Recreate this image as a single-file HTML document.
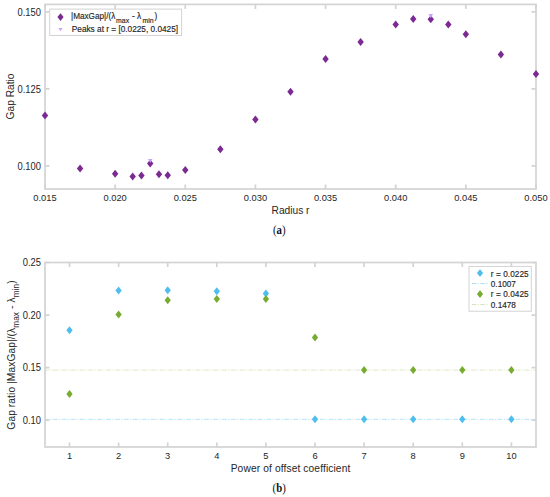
<!DOCTYPE html>
<html><head><meta charset="utf-8"><style>
html,body{margin:0;padding:0;background:#fff;width:550px;height:497px;overflow:hidden;}
svg{display:block;}
</style></head><body>
<svg width="550" height="497" viewBox="0 0 550 497">
<g stroke="#d3d3d3" stroke-width="1.7" fill="none">
<rect x="45.0" y="4.4" width="491.0" height="184.6"/>
<path d="M45.00 189.0V184.5M45.00 4.4V8.9"/>
<path d="M115.14 189.0V184.5M115.14 4.4V8.9"/>
<path d="M185.28 189.0V184.5M185.28 4.4V8.9"/>
<path d="M255.42 189.0V184.5M255.42 4.4V8.9"/>
<path d="M325.56 189.0V184.5M325.56 4.4V8.9"/>
<path d="M395.70 189.0V184.5M395.70 4.4V8.9"/>
<path d="M465.84 189.0V184.5M465.84 4.4V8.9"/>
<path d="M535.98 189.0V184.5M535.98 4.4V8.9"/>
<path d="M45.0 165.80H49.5M536.0 165.80H531.5"/>
<path d="M45.0 88.80H49.5M536.0 88.80H531.5"/>
<path d="M45.0 11.80H49.5M536.0 11.80H531.5"/>
</g>
<g fill="#262626" font-family='"Liberation Sans", sans-serif'>
<text transform="translate(45.00 201.30) scale(0.959 1)" font-size="9.7" text-anchor="middle" >0.015</text>
<text transform="translate(115.14 201.30) scale(0.959 1)" font-size="9.7" text-anchor="middle" >0.020</text>
<text transform="translate(185.28 201.30) scale(0.959 1)" font-size="9.7" text-anchor="middle" >0.025</text>
<text transform="translate(255.42 201.30) scale(0.959 1)" font-size="9.7" text-anchor="middle" >0.030</text>
<text transform="translate(325.56 201.30) scale(0.959 1)" font-size="9.7" text-anchor="middle" >0.035</text>
<text transform="translate(395.70 201.30) scale(0.959 1)" font-size="9.7" text-anchor="middle" >0.040</text>
<text transform="translate(465.84 201.30) scale(0.959 1)" font-size="9.7" text-anchor="middle" >0.045</text>
<text transform="translate(535.98 201.30) scale(0.959 1)" font-size="9.7" text-anchor="middle" >0.050</text>
<text transform="translate(41.00 169.50) scale(0.940 1)" font-size="10.0" text-anchor="end" >0.100</text>
<text transform="translate(41.00 92.50) scale(0.940 1)" font-size="10.0" text-anchor="end" >0.125</text>
<text transform="translate(41.00 15.50) scale(0.940 1)" font-size="10.0" text-anchor="end" >0.150</text>
<text x="290.50" y="214.00" font-size="10.2" text-anchor="middle" >Radius r</text>
<text transform="translate(14.0 96.5) rotate(-90)" font-size="10.2" text-anchor="middle">Gap Ratio</text>
</g>
<path d="M45.00 111.50L48.20 115.50L45.00 119.50L41.80 115.50Z" fill="#7b2a91"/>
<path d="M80.07 164.60L83.27 168.60L80.07 172.60L76.87 168.60Z" fill="#7b2a91"/>
<path d="M115.14 169.70L118.34 173.70L115.14 177.70L111.94 173.70Z" fill="#7b2a91"/>
<path d="M132.68 172.60L135.88 176.60L132.68 180.60L129.48 176.60Z" fill="#7b2a91"/>
<path d="M141.44 171.40L144.64 175.40L141.44 179.40L138.24 175.40Z" fill="#7b2a91"/>
<path d="M150.21 159.60L153.41 163.60L150.21 167.60L147.01 163.60Z" fill="#7b2a91"/>
<path d="M158.98 170.30L162.18 174.30L158.98 178.30L155.78 174.30Z" fill="#7b2a91"/>
<path d="M167.75 171.30L170.94 175.30L167.75 179.30L164.55 175.30Z" fill="#7b2a91"/>
<path d="M185.28 166.10L188.48 170.10L185.28 174.10L182.08 170.10Z" fill="#7b2a91"/>
<path d="M220.35 145.20L223.55 149.20L220.35 153.20L217.15 149.20Z" fill="#7b2a91"/>
<path d="M255.42 115.60L258.62 119.60L255.42 123.60L252.22 119.60Z" fill="#7b2a91"/>
<path d="M290.49 87.70L293.69 91.70L290.49 95.70L287.29 91.70Z" fill="#7b2a91"/>
<path d="M325.56 55.00L328.76 59.00L325.56 63.00L322.36 59.00Z" fill="#7b2a91"/>
<path d="M360.63 38.00L363.83 42.00L360.63 46.00L357.43 42.00Z" fill="#7b2a91"/>
<path d="M395.70 20.50L398.90 24.50L395.70 28.50L392.50 24.50Z" fill="#7b2a91"/>
<path d="M413.24 15.00L416.44 19.00L413.24 23.00L410.04 19.00Z" fill="#7b2a91"/>
<path d="M430.77 15.30L433.97 19.30L430.77 23.30L427.57 19.30Z" fill="#7b2a91"/>
<path d="M448.30 20.50L451.50 24.50L448.30 28.50L445.10 24.50Z" fill="#7b2a91"/>
<path d="M465.84 30.20L469.04 34.20L465.84 38.20L462.64 34.20Z" fill="#7b2a91"/>
<path d="M500.91 50.50L504.11 54.50L500.91 58.50L497.71 54.50Z" fill="#7b2a91"/>
<path d="M535.98 70.00L539.18 74.00L535.98 78.00L532.78 74.00Z" fill="#7b2a91"/>
<path d="M147.91 159.00L152.51 159.00L150.21 162.80Z" fill="#c8a2fd"/>
<path d="M428.47 14.10L433.07 14.10L430.77 18.30Z" fill="#c8a2fd"/>
<rect x="49.7" y="9.1" width="131.9" height="26.4" fill="#fff" stroke="#d3d3d3" stroke-width="1"/>
<path d="M60.50 13.20L63.60 17.10L60.50 21.00L57.40 17.10Z" fill="#7b2a91"/>
<path d="M58.40 27.90L62.60 27.90L60.50 31.30Z" fill="#c8a2fd"/>
<g fill="#262626" stroke="#262626" stroke-width="0.15" font-family='"Liberation Sans", sans-serif' font-size="8.2">
<text x="71.0" y="19.4">|MaxGap|/(λ<tspan font-size="6.9" dy="4.0" dx="0.8">max</tspan><tspan dy="-4.0" dx="0.7"> - λ</tspan><tspan font-size="6.9" dy="4.0" dx="1.4">min</tspan><tspan dy="-4.0" dx="0.8">)</tspan></text>
<text x="71.8" y="32.4" textLength="106.3" lengthAdjust="spacingAndGlyphs">Peaks at r = [0.0225, 0.0425]</text>
</g>
<text transform="translate(279.3 234.0) scale(0.92 1)" font-family='"Liberation Serif", serif' font-size="11.8" text-anchor="middle" fill="#111">(<tspan font-weight="bold">a</tspan>)</text>
<path d="M45.0 419.37H536.0" stroke="#4DBEEE" stroke-width="0.8" stroke-dasharray="5 1.2 1.2 1.5" stroke-dashoffset="1.2" opacity="0.5" fill="none"/>
<path d="M45.0 370.08H536.0" stroke="#77AC30" stroke-width="0.8" stroke-dasharray="5 1.2 1.2 1.5" stroke-dashoffset="1.2" opacity="0.33" fill="none"/>
<g stroke="#d3d3d3" stroke-width="1.7" fill="none">
<rect x="45.0" y="262.5" width="491.0" height="184.5"/>
<path d="M69.50 447.0V442.5M69.50 262.5V267.0"/>
<path d="M118.60 447.0V442.5M118.60 262.5V267.0"/>
<path d="M167.70 447.0V442.5M167.70 262.5V267.0"/>
<path d="M216.80 447.0V442.5M216.80 262.5V267.0"/>
<path d="M265.90 447.0V442.5M265.90 262.5V267.0"/>
<path d="M315.00 447.0V442.5M315.00 262.5V267.0"/>
<path d="M364.10 447.0V442.5M364.10 262.5V267.0"/>
<path d="M413.20 447.0V442.5M413.20 262.5V267.0"/>
<path d="M462.30 447.0V442.5M462.30 262.5V267.0"/>
<path d="M511.40 447.0V442.5M511.40 262.5V267.0"/>
<path d="M45.0 420.11H49.5M536.0 420.11H531.5"/>
<path d="M45.0 367.57H49.5M536.0 367.57H531.5"/>
<path d="M45.0 315.03H49.5M536.0 315.03H531.5"/>
<path d="M45.0 262.50H49.5M536.0 262.50H531.5"/>
</g>
<g fill="#262626" font-family='"Liberation Sans", sans-serif'>
<text transform="translate(69.50 459.20) scale(0.959 1)" font-size="9.7" text-anchor="middle" >1</text>
<text transform="translate(118.60 459.20) scale(0.959 1)" font-size="9.7" text-anchor="middle" >2</text>
<text transform="translate(167.70 459.20) scale(0.959 1)" font-size="9.7" text-anchor="middle" >3</text>
<text transform="translate(216.80 459.20) scale(0.959 1)" font-size="9.7" text-anchor="middle" >4</text>
<text transform="translate(265.90 459.20) scale(0.959 1)" font-size="9.7" text-anchor="middle" >5</text>
<text transform="translate(315.00 459.20) scale(0.959 1)" font-size="9.7" text-anchor="middle" >6</text>
<text transform="translate(364.10 459.20) scale(0.959 1)" font-size="9.7" text-anchor="middle" >7</text>
<text transform="translate(413.20 459.20) scale(0.959 1)" font-size="9.7" text-anchor="middle" >8</text>
<text transform="translate(462.30 459.20) scale(0.959 1)" font-size="9.7" text-anchor="middle" >9</text>
<text transform="translate(511.40 459.20) scale(0.959 1)" font-size="9.7" text-anchor="middle" >10</text>
<text transform="translate(41.00 423.81) scale(0.940 1)" font-size="10.0" text-anchor="end" >0.10</text>
<text transform="translate(41.00 371.27) scale(0.940 1)" font-size="10.0" text-anchor="end" >0.15</text>
<text transform="translate(41.00 318.73) scale(0.940 1)" font-size="10.0" text-anchor="end" >0.20</text>
<text transform="translate(41.00 266.20) scale(0.940 1)" font-size="10.0" text-anchor="end" >0.25</text>
<text x="290.50" y="471.70" font-size="10.2" text-anchor="middle" textLength="119.6" lengthAdjust="spacing">Power of offset coefficient</text>
<text transform="translate(15.0 355) rotate(-90)" font-size="10.2" text-anchor="middle" letter-spacing="0.1">Gap ratio |MaxGap|/(λ<tspan font-size="8.2" dy="4.4">max</tspan><tspan dy="-4.4"> - λ</tspan><tspan font-size="8.2" dy="4.4">min</tspan><tspan dy="-4.4">)</tspan></text>
</g>
<path d="M69.50 326.20L72.65 330.20L69.50 334.20L66.35 330.20Z" fill="#4DBEEE"/>
<path d="M118.60 286.60L121.75 290.60L118.60 294.60L115.45 290.60Z" fill="#4DBEEE"/>
<path d="M167.70 286.20L170.85 290.20L167.70 294.20L164.55 290.20Z" fill="#4DBEEE"/>
<path d="M216.80 287.20L219.95 291.20L216.80 295.20L213.65 291.20Z" fill="#4DBEEE"/>
<path d="M265.90 289.40L269.05 293.40L265.90 297.40L262.75 293.40Z" fill="#4DBEEE"/>
<path d="M315.00 415.37L318.15 419.37L315.00 423.37L311.85 419.37Z" fill="#4DBEEE"/>
<path d="M364.10 415.37L367.25 419.37L364.10 423.37L360.95 419.37Z" fill="#4DBEEE"/>
<path d="M413.20 415.37L416.35 419.37L413.20 423.37L410.05 419.37Z" fill="#4DBEEE"/>
<path d="M462.30 415.37L465.45 419.37L462.30 423.37L459.15 419.37Z" fill="#4DBEEE"/>
<path d="M511.40 415.37L514.55 419.37L511.40 423.37L508.25 419.37Z" fill="#4DBEEE"/>
<path d="M69.50 390.10L72.65 394.10L69.50 398.10L66.35 394.10Z" fill="#77AC30"/>
<path d="M118.60 310.50L121.75 314.50L118.60 318.50L115.45 314.50Z" fill="#77AC30"/>
<path d="M167.70 296.30L170.85 300.30L167.70 304.30L164.55 300.30Z" fill="#77AC30"/>
<path d="M216.80 295.10L219.95 299.10L216.80 303.10L213.65 299.10Z" fill="#77AC30"/>
<path d="M265.90 295.10L269.05 299.10L265.90 303.10L262.75 299.10Z" fill="#77AC30"/>
<path d="M315.00 333.50L318.15 337.50L315.00 341.50L311.85 337.50Z" fill="#77AC30"/>
<path d="M364.10 365.88L367.25 369.88L364.10 373.88L360.95 369.88Z" fill="#77AC30"/>
<path d="M413.20 365.88L416.35 369.88L413.20 373.88L410.05 369.88Z" fill="#77AC30"/>
<path d="M462.30 365.88L465.45 369.88L462.30 373.88L459.15 369.88Z" fill="#77AC30"/>
<path d="M511.40 365.88L514.55 369.88L511.40 373.88L508.25 369.88Z" fill="#77AC30"/>
<rect x="469" y="266.4" width="62.3" height="44.8" fill="#fff" stroke="#d3d3d3" stroke-width="1"/>
<path d="M480.00 269.20L483.10 273.10L480.00 277.00L476.90 273.10Z" fill="#4DBEEE"/>
<path d="M471.9 283.4H488.3" stroke="#4DBEEE" stroke-width="0.8" stroke-dasharray="4.3 1.6 1 1.6" opacity="0.65"/>
<path d="M480.00 290.20L483.10 294.10L480.00 298.00L476.90 294.10Z" fill="#77AC30"/>
<path d="M471.9 304.4H488.3" stroke="#77AC30" stroke-width="0.8" stroke-dasharray="4.3 1.6 1 1.6" opacity="0.45"/>
<g fill="#262626" stroke="#262626" stroke-width="0.15" font-family='"Liberation Sans", sans-serif' font-size="8.2">
<text x="490.80" y="276.60" font-size="8.2" text-anchor="start" textLength="37.8" lengthAdjust="spacing">r = 0.0225</text>
<text x="490.80" y="287.00" font-size="8.2" text-anchor="start" >0.1007</text>
<text x="490.80" y="297.40" font-size="8.2" text-anchor="start" textLength="37.8" lengthAdjust="spacing">r = 0.0425</text>
<text x="490.80" y="307.80" font-size="8.2" text-anchor="start" >0.1478</text>
</g>
<text transform="translate(279.2 491.9) scale(0.92 1)" font-family='"Liberation Serif", serif' font-size="11.8" text-anchor="middle" fill="#111">(<tspan font-weight="bold">b</tspan>)</text>
</svg>
</body></html>
